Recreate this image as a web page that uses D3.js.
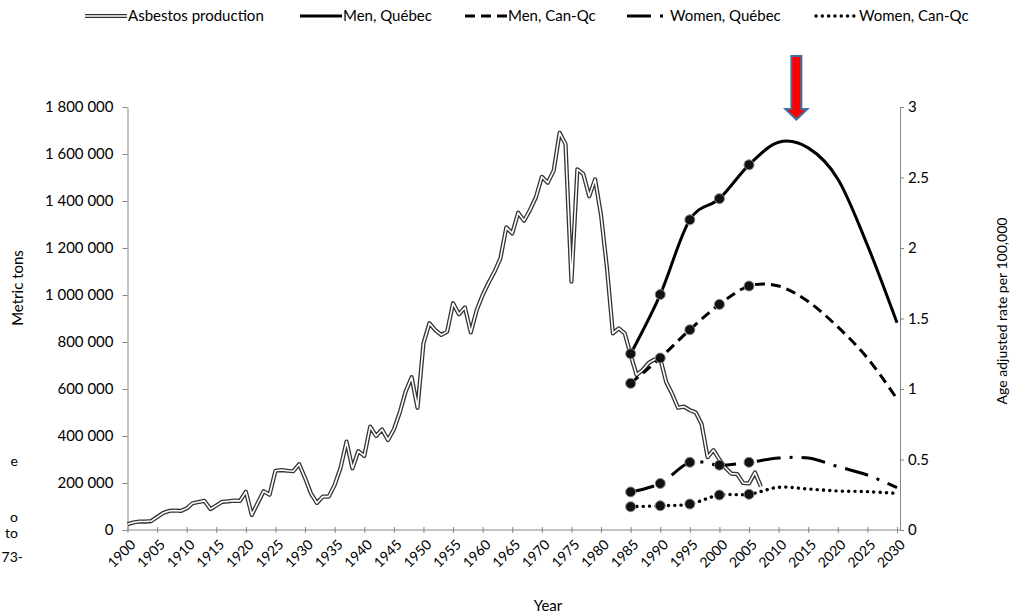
<!DOCTYPE html>
<html>
<head>
<meta charset="utf-8">
<script src="https://cdn.jsdelivr.net/npm/d3@7"></script>
<style>
  body { margin: 0; background: #fff; }
  svg { display: block; font-family: Lato, "Open Sans", sans-serif; }
</style>
</head>
<body>
<svg id="chart" width="1012" height="616"></svg>
<script>
// asbestos production in metric tons, one value per year starting 1900
const prodStartYear = 1900;
const production = [
    24000, 32000, 36000, 36000, 38000, 55000, 72000, 81000, 83000, 81000,          // 1900s
    92000, 114000, 119000, 124000, 89000, 104000, 120000, 122000, 125000, 124000,  // 1910s
    163000, 64000, 115000, 165000, 150000, 252000, 255000, 252000, 250000, 280000, // 1920s
    221000, 155000, 115000, 142000, 142000, 192000, 265000, 376000, 262000, 336000,// 1930s
    315000, 440000, 400000, 428000, 383000, 428000, 500000, 590000, 650000, 520000,// 1940s
    794000, 880000, 851000, 830000, 844000, 965000, 918000, 947000, 841000, 936000,// 1950s
    1000000, 1052000, 1099000, 1156000, 1288000, 1262000, 1350000, 1316000, 1362000, 1416000,
    1503000, 1478000, 1529000, 1690000, 1642000, 1057000, 1535000, 1515000, 1420000, 1492000,
    1340000, 1115000, 837000, 858000, 837000, 745000, 660000, 680000, 710000, 725000,
    730000, 630000, 580000, 520000, 525000, 510000, 500000, 450000, 310000, 340000,
    300000, 265000, 240000, 238000, 200000, 198000, 245000, 185000                 // 2000s
];

// age adjusted rate per 100,000 (observed to 2005, projected after)
const rateYears    = [1985, 1990, 1995, 2000, 2005, 2010, 2015, 2020, 2025, 2030];
const menQuebec    = [1.25, 1.67, 2.20, 2.35, 2.59, 2.75, 2.71, 2.49, 2.02, 1.47];
const menCanQc     = [1.04, 1.22, 1.42, 1.60, 1.73, 1.73, 1.62, 1.44, 1.22, 0.93];
const womenQuebec  = [0.27, 0.33, 0.48, 0.46, 0.48, 0.51, 0.51, 0.45, 0.39, 0.30];
const womenCanQc   = [0.165, 0.172, 0.184, 0.248, 0.253, 0.303, 0.291, 0.277, 0.272, 0.26];
const observedYears = [1985, 1990, 1995, 2000, 2005];

const yearTicks = [1900, 1905, 1910, 1915, 1920, 1925, 1930, 1935, 1940, 1945, 1950, 1955, 1960,
    1965, 1970, 1975, 1980, 1985, 1990, 1995, 2000, 2005, 2010, 2015, 2020, 2025, 2030];
const tonTicks  = [0, 200000, 400000, 600000, 800000, 1000000, 1200000, 1400000, 1600000, 1800000];
const rateTicks = [0, 0.5, 1, 1.5, 2, 2.5, 3];

const peakYear = 2013; // where the arrow points

// cut-off caption fragments at the left edge: text, y, right edge
const leftFragments = [["e", 461, 18], ["o", 517, 18], ["to", 533, 18], ["73-", 557, 23]];

const svg = d3.select("#chart");

const plotLeft = 127.5, plotRight = 900, plotTop = 107, plotBottom = 530;

const x = d3.scaleLinear().domain([1900, 2030]).range([plotLeft, 897]);
const yTons = d3.scaleLinear().domain([0, 1800000]).range([plotBottom, plotTop]);
const yRate = d3.scaleLinear().domain([0, 3]).range([plotBottom, plotTop]);

const fmtTons = d3.formatLocale({decimal: ",", thousands: " ", grouping: [3], currency: ["", ""]}).format(",d");

// ---- axes ----
const axisColor = "#868686";

const xAxis = svg.append("g")
    .attr("transform", `translate(0,${plotBottom})`)
    .call(d3.axisBottom(x).tickValues(yearTicks).tickSizeOuter(0).tickSize(3).tickFormat(d3.format("d")));
xAxis.select(".domain").attr("d", `M${plotLeft},0H${plotRight}`);
xAxis.selectAll(".tick line").attr("y1", -3).attr("y2", 3);
xAxis.selectAll(".tick text")
    .attr("text-anchor", "end")
    .attr("transform", "translate(5,12) rotate(-45)")
    .attr("x", 0).attr("y", 0).attr("dy", "0.35em")
    .style("font-size", "14px");

svg.append("g")
    .attr("transform", `translate(${plotLeft},0)`)
    .call(d3.axisLeft(yTons).tickValues(tonTicks).tickSize(5).tickSizeOuter(0).tickPadding(9).tickFormat(fmtTons))
    .selectAll(".tick text").style("font-size", "15px");

svg.append("g")
    .attr("transform", `translate(${plotRight},0)`)
    .call(d3.axisRight(yRate).tickValues(rateTicks).tickSize(4).tickSizeOuter(0).tickPadding(4).tickFormat(d3.format("")))
    .selectAll(".tick text").style("font-size", "15px");

svg.selectAll(".domain, .tick line").attr("stroke", axisColor);
svg.selectAll(".tick text").attr("fill", "#000").style("font-family", "Lato, sans-serif");

// axis titles
svg.append("text")
    .attr("transform", "translate(23,288) rotate(-90)")
    .attr("text-anchor", "middle")
    .style("font-size", "15px")
    .text("Metric tons");

svg.append("text")
    .attr("transform", "translate(1007,311) rotate(-90)")
    .attr("text-anchor", "middle")
    .style("font-size", "14px")
    .text("Age adjusted rate per 100,000");

svg.append("text")
    .attr("x", 548).attr("y", 611)
    .attr("text-anchor", "middle")
    .style("font-size", "15px")
    .text("Year");

leftFragments.forEach(function(f) {
    svg.append("text")
        .attr("x", f[2]).attr("y", f[1])
        .attr("dy", "0.35em")
        .attr("text-anchor", "end")
        .style("font-size", "14px")
        .text(f[0]);
});

// ---- asbestos production, double line ----
const prodLine = d3.line()
    .x((d, i) => x(prodStartYear + i))
    .y(d => yTons(d));

svg.append("path")
    .datum(production)
    .attr("d", prodLine)
    .attr("fill", "none")
    .attr("stroke", "#333")
    .attr("stroke-width", 4.2)
    .attr("stroke-linejoin", "round");

svg.append("path")
    .datum(production)
    .attr("d", prodLine)
    .attr("fill", "none")
    .attr("stroke", "#fff")
    .attr("stroke-width", 1.6)
    .attr("stroke-linejoin", "round");

// ---- rate series ----
const series = [
    {name: "Men, Québec",   values: menQuebec,   dash: null},
    {name: "Men, Can-Qc",   values: menCanQc,    dash: "10,6"},
    {name: "Women, Québec", values: womenQuebec, dash: "24,9,3,9"},
    {name: "Women, Can-Qc", values: womenCanQc,  dash: "0.1,6.2", round: true}
];

const rateLine = d3.line()
    .x(d => x(d[0]))
    .y(d => yRate(d[1]))
    .curve(d3.curveCardinal.tension(0));

series.forEach(function(s) {
    const pts = rateYears.map((yr, i) => [yr, s.values[i]]);

    svg.append("path")
        .datum(pts)
        .attr("d", rateLine)
        .attr("fill", "none")
        .attr("stroke", "#000")
        .attr("stroke-width", s.round ? 3.4 : 3)
        .attr("stroke-linecap", s.round ? "round" : "butt")
        .attr("stroke-dasharray", s.dash);

    svg.selectAll(null)
        .data(pts.filter(p => observedYears.includes(p[0])))
        .enter().append("circle")
        .attr("cx", d => x(d[0]))
        .attr("cy", d => yRate(d[1]))
        .attr("r", 5)
        .attr("fill", "#111")
        .attr("stroke", "#8a8a8a")
        .attr("stroke-width", 1);
});

// ---- arrow at the peak ----
const ax = x(peakYear);
svg.append("path")
    .attr("d", `M${ax - 5},56 H${ax + 5} V109 H${ax + 11} L${ax},119.5 L${ax - 11},109 H${ax - 5} Z`)
    .attr("fill", "#ff0000")
    .attr("stroke", "#41719c")
    .attr("stroke-width", 2);

// ---- legend ----
const legendY = 16;
const legend = [
    {x: 85,  name: "Asbestos production", kind: "double"},
    {x: 300, name: series[0].name, s: series[0]},
    {x: 465, name: series[1].name, s: series[1]},
    {x: 627, name: series[2].name, s: series[2]},
    {x: 816, name: series[3].name, s: series[3]}
];

legend.forEach(function(item) {
    const g = svg.append("g");
    const x1 = item.x, x2 = item.x + 42;
    if (item.kind === "double") {
        g.append("line").attr("x1", x1).attr("x2", x2).attr("y1", legendY).attr("y2", legendY)
            .attr("stroke", "#333").attr("stroke-width", 4.2);
        g.append("line").attr("x1", x1).attr("x2", x2).attr("y1", legendY).attr("y2", legendY)
            .attr("stroke", "#fff").attr("stroke-width", 1.6);
    } else {
        g.append("line").attr("x1", x1).attr("x2", x2).attr("y1", legendY).attr("y2", legendY)
            .attr("stroke", "#000")
            .attr("stroke-width", item.s.round ? 3.4 : 3)
            .attr("stroke-linecap", item.s.round ? "round" : "butt")
            .attr("stroke-dasharray", item.s.dash);
    }
    g.append("text")
        .attr("x", x2 + 1).attr("y", legendY)
        .attr("dy", "0.35em")
        .style("font-size", "15px")
        .text(item.name);
});
</script>
</body>
</html>
